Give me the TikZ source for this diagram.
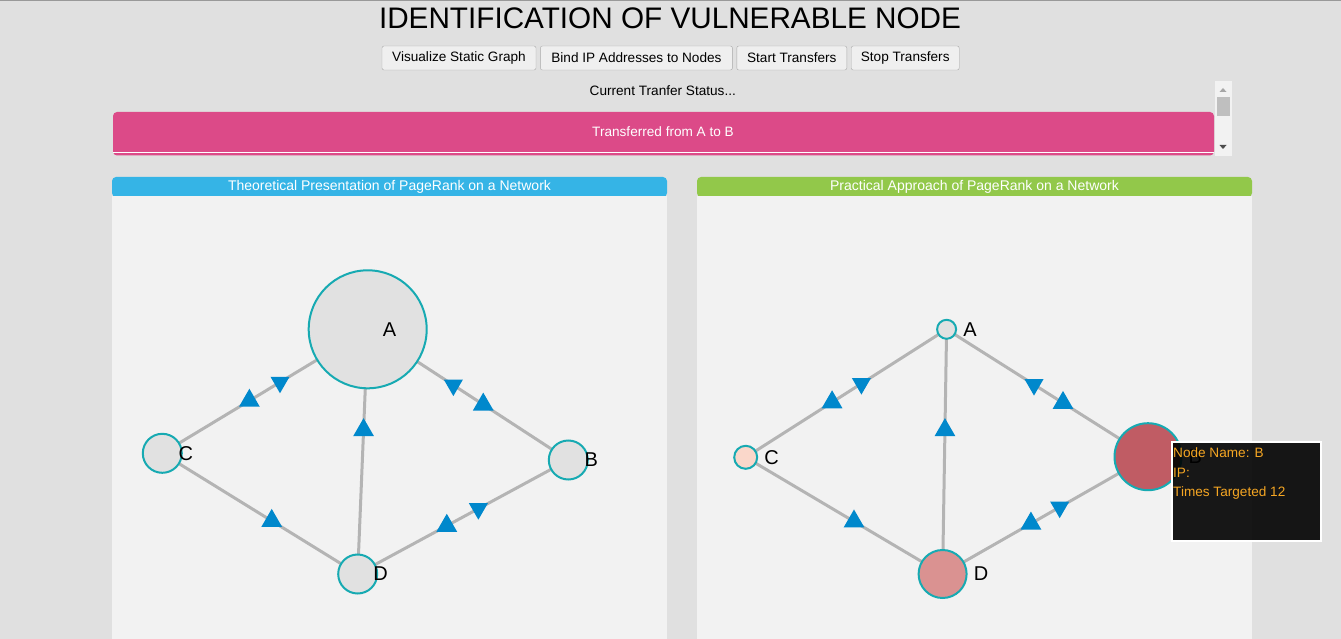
\documentclass[tikz,border=0pt]{standalone}
\usepackage{fontspec}
\setmainfont{Liberation Sans}
\usetikzlibrary{positioning,shapes.geometric,decorations.markings}

\definecolor{pagebg}{RGB}{224,224,224}
\definecolor{panelbg}{RGB}{242,242,242}
\definecolor{pinkbar}{RGB}{220,74,136}
\definecolor{bluehead}{RGB}{53,180,230}
\definecolor{greenhead}{RGB}{146,200,74}
\definecolor{nodeteal}{RGB}{23,170,178}
\definecolor{nodegray}{RGB}{225,225,225}
\definecolor{edgegray}{RGB}{180,180,180}
\definecolor{arrowblue}{RGB}{0,136,204}
\definecolor{peach}{RGB}{250,215,202}
\definecolor{rosy}{RGB}{218,146,145}
\definecolor{darkrose}{RGB}{192,92,100}
\definecolor{tiporange}{RGB}{245,166,35}
\definecolor{btnfill}{RGB}{239,239,239}
\definecolor{btnborder}{RGB}{169,169,169}

\pgfdeclarelayer{bg}
\pgfdeclarelayer{edges}
\pgfsetlayers{bg,edges,main}

\begin{document}
\begin{tikzpicture}[x=1pt, y=-1pt, node distance=4pt]
          \tikzset{
              mynode/.style={circle, draw=nodeteal, line width=2pt, fill=nodegray, inner sep=0pt},
              myedge/.style={draw=edgegray, line width=3pt},
              upmark/.style={regular polygon, regular polygon sides=3, fill=arrowblue, inner sep=0pt, outer sep=0pt, minimum size=24pt},
              downmark/.style={upmark, minimum size=22pt, shape border rotate=180},
              oneway/.style={postaction={decorate, decoration={markings, mark=at position #1 with {\node[upmark] {};}}}},
              twoway/.style 2 args={postaction={decorate, decoration={markings, mark=at position #1 with {\node[upmark] {};}, mark=at position #2 with {\node[downmark] {};}}}},
              mylabel/.style={inner sep=0pt, anchor=west, font=\fontsize{20}{24}\selectfont},
              mybutton/.style={rectangle, rounded corners=2pt, draw=btnborder, fill=btnfill, minimum height=24pt, inner sep=0pt, font=\fontsize{13.6}{16}\selectfont},
              smalltext/.style={inner sep=0pt, font=\fontsize{13.6}{16}\selectfont},
              panelhead/.style={rectangle, rounded corners=4pt, minimum width=555pt, minimum height=20pt, inner sep=0pt, text=white, font=\fontsize{14}{16}\selectfont},
              tiptext/.style={smalltext, anchor=west, text=tiporange}
          }
          \useasboundingbox (0,0) rectangle (1341,639);

          % page, panels and status box
          \begin{pgfonlayer}{bg}
          \fill[pagebg] (0,0) rectangle (1341,639);
          \draw[gray!80] (0,0.5) -- (1341,0.5);
          \node[panelhead, fill=bluehead] (head-theory) at (389.5,187) {Theoretical Presentation of PageRank on a Network};
          \node[panelhead, fill=greenhead] (head-practice) at (974.5,187) {Practical Approach of PageRank on a Network};
          \fill[panelbg] (112,196.5) rectangle (667,639);
          \fill[panelbg] (697,196.5) rectangle (1252,639);
          \fill[pinkbar, rounded corners=4pt] (113,112) rectangle (1214,155.5);
          \draw[white, line width=1.2pt] (113,152.3) -- (1214,152.3);
          % scrollbar
          \fill[panelbg] (1215,81) rectangle (1232,156);
          \fill[black!25] (1217,97) rectangle (1230,116);
          \fill[black!35] (1219.5,92) -- (1226.5,92) -- (1223,88) -- cycle;
          \fill[black!70] (1219.5,145) -- (1226.5,145) -- (1223,149) -- cycle;
          \end{pgfonlayer}

          \node[font=\fontsize{29.7}{36}\selectfont, inner sep=0pt] (title) at (670,18) {IDENTIFICATION OF VULNERABLE NODE};
          \node[mybutton, minimum width=154pt] (btn-static) at (459,58) {Visualize Static Graph};
          \node[mybutton, minimum width=192pt, right=4pt of btn-static] (btn-bind) {Bind IP Addresses to Nodes};
          \node[mybutton, minimum width=110pt, right=4pt of btn-bind] (btn-start) {Start Transfers};
          \node[mybutton, minimum width=108pt, right=4pt of btn-start] (btn-stop) {Stop Transfers};
          \node[smalltext] (status) at (662.8,91) {Current Tranfer Status...};
          \node[smalltext, text=white] (msg) at (663,132) {Transferred from A to B};

          % theoretical graph
          \node[mynode, minimum size=118pt] (la) at (367.7,329.3) {};
          \node[mynode, minimum size=39pt] (lb) at (568.3,460) {};
          \node[mynode, minimum size=39pt] (lc) at (162.3,453.3) {};
          \node[mynode, minimum size=39pt] (ld) at (357.7,574) {};
          \node[mylabel] (la-text) at ([xshift=15pt]la.center) {A};
          \node[mylabel] (lb-text) at ([xshift=16pt]lb.center) {B};
          \node[mylabel] (lc-text) at ([xshift=16pt]lc.center) {C};
          \node[mylabel] (ld-text) at ([xshift=15.5pt]ld.center) {D};

          % practical graph
          \node[mynode, minimum size=19pt] (ra) at (946.6,329.3) {};
          \node[mynode, minimum size=67pt, fill=darkrose] (rb) at (1148,456.7) {};
          \node[mynode, minimum size=23pt, fill=peach] (rc) at (745.7,457.3) {};
          \node[mynode, minimum size=48pt, fill=rosy] (rd) at (942.6,574) {};
          \node[mylabel, right=6pt of ra] (ra-text) {A};
          \node[mylabel, right=6pt of rb] (rb-text) {B};
          \node[mylabel, right=6pt of rc] (rc-text) {C};
          \node[mylabel, right=6pt of rd] (rd-text) {D};

          \begin{pgfonlayer}{edges}
          \draw[myedge, twoway={0.424}{0.573}] (lc.center) -- (la.center);
          \draw[myedge, twoway={0.576}{0.427}] (la.center) -- (lb.center);
          \draw[myedge, oneway=0.588] (ld.center) -- (la.center);
          \draw[myedge, oneway=0.56] (lc.center) -- (ld.center);
          \draw[myedge, twoway={0.423}{0.573}] (ld.center) -- (lb.center);

          \draw[myedge, twoway={0.43}{0.576}] (rc.center) -- (ra.center);
          \draw[myedge, twoway={0.578}{0.434}] (ra.center) -- (rb.center);
          \draw[myedge, oneway=0.588] (rd.center) -- (ra.center);
          \draw[myedge, oneway=0.55] (rc.center) -- (rd.center);
          \draw[myedge, twoway={0.43}{0.57}] (rd.center) -- (rb.center);
          \end{pgfonlayer}

          % tooltip over node B
          \node[rectangle, draw=white, line width=2pt, fill=black, fill opacity=0.9, minimum width=149pt, minimum height=99pt, anchor=north west] (tip) at (1171,441) {};
          \node[tiptext] (tip-name) at ([xshift=2pt, yshift=-12pt]tip.north west) {Node Name: B};
          \node[tiptext] (tip-ip) at ([xshift=2pt, yshift=-32pt]tip.north west) {IP:};
          \node[tiptext] (tip-count) at ([xshift=2pt, yshift=-52pt]tip.north west) {Times Targeted 12};
        \end{tikzpicture}
\end{document}
